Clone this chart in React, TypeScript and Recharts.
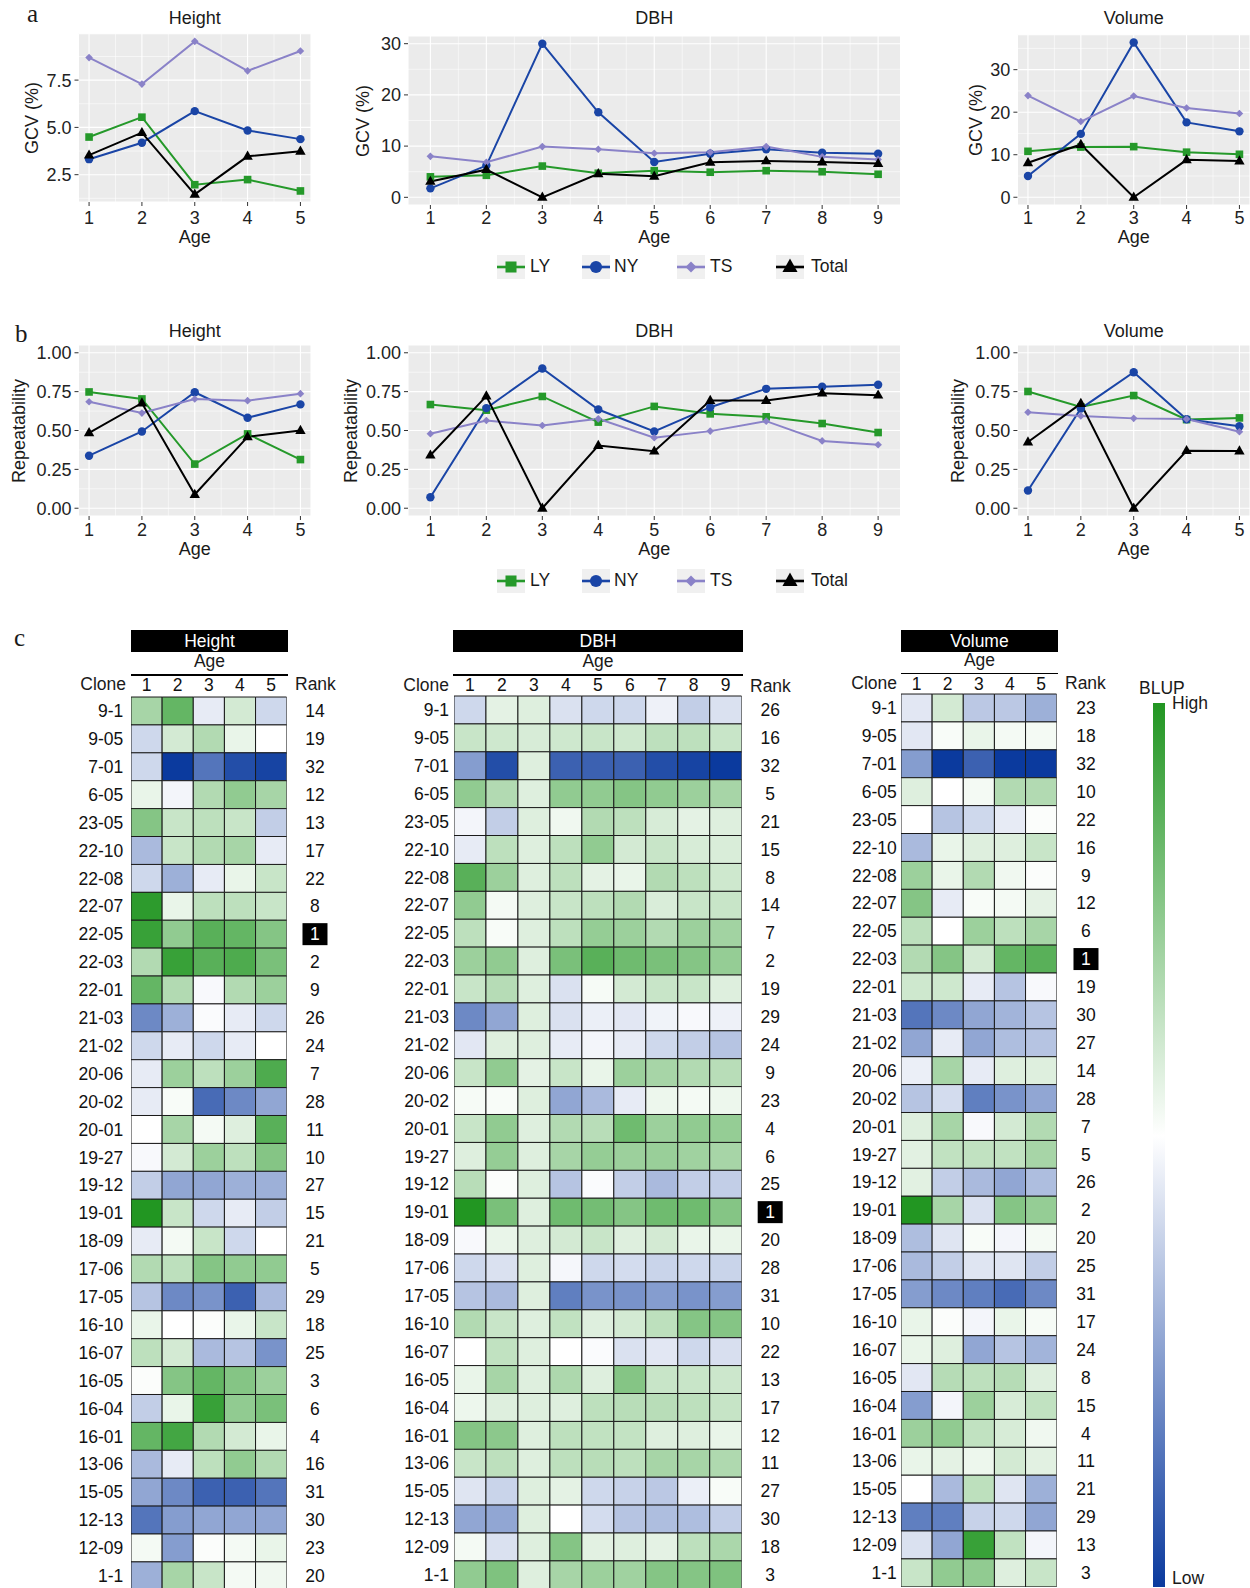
import React from 'react';
import {
  LineChart, Line, XAxis, YAxis, CartesianGrid, ReferenceLine, BarChart, Bar, Cell,
} from 'recharts';

const FONT = '"Liberation Sans", Arial, Helvetica, sans-serif';
const SERIF = '"Liberation Serif", "Times New Roman", serif';

const ages5 = [1, 2, 3, 4, 5];
const ages9 = [1, 2, 3, 4, 5, 6, 7, 8, 9];

// a: genetic coefficient of variation (%)
const gcvHeightLY = [4.49, 5.54, 1.97, 2.24, 1.64];
const gcvHeightNY = [3.32, 4.19, 5.86, 4.84, 4.38];
const gcvHeightTS = [8.69, 7.29, 9.55, 7.99, 9.04];
const gcvHeightTotal = [3.53, 4.72, 1.46, 3.47, 3.74];

const gcvDbhLY = [4.0, 4.3, 6.1, 4.7, 5.2, 4.9, 5.2, 5.0, 4.5];
const gcvDbhNY = [1.75, 6.2, 30.0, 16.6, 6.9, 8.5, 9.4, 8.7, 8.5];
const gcvDbhTS = [8.0, 6.85, 9.9, 9.4, 8.6, 8.8, 9.9, 7.9, 7.4];
const gcvDbhTotal = [3.1, 5.4, 0.0, 4.6, 4.1, 6.85, 7.1, 6.9, 6.6];

const gcvVolLY = [10.8, 11.8, 11.9, 10.6, 10.1];
const gcvVolNY = [5.0, 14.9, 36.4, 17.6, 15.5];
const gcvVolTS = [23.9, 17.8, 23.8, 21.0, 19.7];
const gcvVolTotal = [8.1, 12.4, 0.0, 8.8, 8.5];

// b: repeatability
const repHeightLY = [0.748, 0.703, 0.284, 0.478, 0.313];
const repHeightNY = [0.338, 0.494, 0.746, 0.582, 0.668];
const repHeightTS = [0.685, 0.612, 0.703, 0.692, 0.737];
const repHeightTotal = [0.485, 0.677, 0.088, 0.459, 0.5];

const repDbhLY = [0.667, 0.631, 0.719, 0.554, 0.655, 0.607, 0.588, 0.545, 0.487];
const repDbhNY = [0.071, 0.644, 0.899, 0.635, 0.494, 0.65, 0.768, 0.781, 0.794];
const repDbhTS = [0.479, 0.564, 0.532, 0.575, 0.453, 0.496, 0.56, 0.433, 0.408];
const repDbhTotal = [0.341, 0.721, 0.0, 0.403, 0.367, 0.693, 0.693, 0.74, 0.727];

const repVolLY = [0.751, 0.652, 0.725, 0.57, 0.581];
const repVolNY = [0.114, 0.641, 0.875, 0.572, 0.527];
const repVolTS = [0.617, 0.594, 0.578, 0.574, 0.492];
const repVolTotal = [0.426, 0.673, 0.0, 0.37, 0.368];

const gcvHeightTicks = [2.5, 5, 7.5];
const gcvHeightMinor = [1.25, 3.75, 6.25, 8.75];
const gcvTicks = [0, 10, 20, 30];
const gcvDbhMinor = [5, 15, 25];
const gcvVolMinor = [5, 15, 25, 35];
const repTicks = [0, 0.25, 0.5, 0.75, 1];
const repMinor = [0.125, 0.375, 0.625, 0.875];

// c: BLUP heatmaps (relative scale, -10 = low ... +10 = high)
const clones = ['9-1', '9-05', '7-01', '6-05', '23-05', '22-10', '22-08', '22-07', '22-05', '22-03',
  '22-01', '21-03', '21-02', '20-06', '20-02', '20-01', '19-27', '19-12', '19-01', '18-09',
  '17-06', '17-05', '16-10', '16-07', '16-05', '16-04', '16-01', '13-06', '15-05', '12-13',
  '12-09', '1-1'];

const rankHeight = [14, 19, 32, 12, 13, 17, 22, 8, 1, 2, 9, 26, 24, 7, 28, 11, 10, 27, 15, 21, 5, 29, 18, 25, 3, 6, 4, 16, 31, 30, 23, 20];
const rankDbh = [26, 16, 32, 5, 21, 15, 8, 14, 7, 2, 19, 29, 24, 9, 23, 4, 6, 25, 1, 20, 28, 31, 10, 22, 13, 17, 12, 11, 27, 30, 18, 3];
const rankVol = [23, 18, 32, 10, 22, 16, 9, 12, 6, 1, 19, 30, 27, 14, 28, 7, 5, 26, 2, 20, 25, 31, 17, 24, 8, 15, 4, 11, 21, 29, 13, 3];

const blupHeight = [
  [4, 7, -1, 2, -2],
  [-2, 2, 3.5, 1, 0],
  [-2, -10, -7, -9, -9.5],
  [1, -0.5, 3.5, 5, 4],
  [5.5, 2.5, 3, 2.5, -2.5],
  [-3.5, 2.5, 3.5, 4, -1],
  [-2, -4, -1, 1, 2.5],
  [9.5, 1, 3, 3, 2.5],
  [9, 5, 7.5, 7, 5.5],
  [3.5, 9, 7.5, 8, 6],
  [7, 3.5, -0.3, 3.5, 4.5],
  [-6, -4, -0.2, -1, -2],
  [-2, -1, -2, -1, 0],
  [-1, 4.5, 3, 4.5, 8],
  [-1, 0.3, -7.5, -6, -4.5],
  [0, 4, 0.5, 1.5, 7.5],
  [-0.3, 2, 4.5, 3, 5.5],
  [-2.5, -4.5, -4.5, -4, -4],
  [10, 2.5, -2, -1, -2.5],
  [-1, 0.5, 2.5, -2, 0],
  [3.5, 3, 5.5, 5, 5],
  [-3, -6, -5.5, -8, -3.5],
  [1, 0, 0.2, 1, 2.5],
  [3, 2, -3.5, -3, -5.5],
  [0.2, 5.5, 7, 5.5, 4.5],
  [-2.5, 1, 9, 5, 6],
  [7, 8.5, 3.5, 2, 1],
  [-3.5, -1, 3, 5, 3.5],
  [-4.5, -6, -8, -8, -7],
  [-7, -5, -4.5, -4.5, -4.5],
  [0.5, -5, 0.2, 0.5, 1],
  [-4, 4, 2.5, 0.5, 0.7],
];

const blupDbh = [
  [-2, 1.2, 1.5, -1.5, -2, -2, -0.7, -2.5, -1.5],
  [2.5, 2.2, 1.8, 2.2, 2.5, 2.2, 3, 3, 2.5],
  [-5, -9, 1.5, -8, -8, -8, -9, -9.5, -10],
  [5, 3.5, 1.5, 5, 5, 5.5, 5, 4.5, 4],
  [-0.5, -2.5, 1.5, 0.7, 3.5, 3, 1.8, 1.2, 1.5],
  [-1, 3, 1.5, 3, 5, 2, 2.5, 1.8, 1.7],
  [7.5, 4.5, 1.5, 3, 1.2, 1, 3.5, 3, 2.2],
  [5, 0.5, 1.5, 2.5, 3, 3.5, 1.7, 2.5, 2.5],
  [3, 0.3, 1.5, 3, 4.8, 4.5, 3.5, 4.5, 4.2],
  [4.5, 5, 1.5, 6, 7.5, 6.5, 6, 5.5, 4.8],
  [2.5, 3.3, 1.5, -1.5, 0.4, 2, 2.5, 2.5, 1.5],
  [-6, -4.5, 1.5, -1.5, -0.8, -1.2, -0.6, -0.3, -0.7],
  [-1.2, 1.5, 1.5, -1, -0.5, -1, -2, -2.5, -3],
  [2.5, 5, 1.2, 2.5, 1, 4.5, 4, 3.5, 3.2],
  [0.4, 0.3, 1.5, -4.5, -3.5, -1, 0.8, 0.5, 0.8],
  [2.5, 5, 1.5, 3.5, 3.2, 6.5, 4.5, 5, 4.8],
  [1.5, 4.8, 1.5, 4, 4.8, 4.5, 4.6, 4.3, 4],
  [3.2, 0.2, 1.5, -3, -0.2, -2.5, -3.5, -2.5, -2.5],
  [10, 6, 1.5, 6.5, 6.3, 5.5, 6.5, 6.5, 5.5],
  [-0.3, 1, 1.5, 2, 2.5, 1.5, 2, 1, 1],
  [-2, -1.5, 1.5, -0.4, -2, -1.8, -2.2, -2, -2.2],
  [-3, -3.5, 1.5, -6.5, -5.5, -5.5, -5, -5.5, -5],
  [3.5, 2.5, 1.5, 2.8, 1.5, 2, 3, 5.5, 5.5],
  [0, 2.8, 1.5, 0, -0.2, -1.5, -1.2, -2, -1.6],
  [1, 4, 1.5, 3.7, 1.5, 5.5, 2.5, 2.5, 2.3],
  [0.8, 1.5, 1.5, 1.5, 3, 3.2, 3.2, 3, 2.6],
  [5.5, 5.2, 1.5, 3, 2.8, 2.7, 1.5, 1.5, 1],
  [2.5, 3, 1.5, 3, 3.2, 3, 4, 4, 3.6],
  [-1.3, -2.2, 1.5, 1.2, -2, -2.3, -2.8, -0.8, 0.3],
  [-4.5, -4.5, 1.5, 0, -1.8, -3, -3.3, -3.3, -2.5],
  [0.5, -1.5, 1.5, 5.5, 1.3, 1.5, 1.2, 3, 3.8],
  [5, 5.8, 1.5, 4, 4.5, 4.3, 5.5, 5.5, 5.8],
];

const blupVol = [
  [-1.2, 2, -2.8, -2.8, -4],
  [-1.2, 0.3, 1, 0.5, 0.5],
  [-5, -10, -8, -10, -10],
  [1.5, 0, 0.5, 3.5, 3.5],
  [0, -3, -2, -1, 0.2],
  [-3.5, 1, 1.5, 1.5, 2.5],
  [4.5, 1, 3.5, 0.7, 0.2],
  [5.5, -1, 0.3, 0.5, 1.2],
  [3, 0, 4.5, 3, 4],
  [3.5, 5.5, 2, 7, 7.5],
  [2.2, 2.2, -1, -3, -0.3],
  [-7, -6, -4.5, -3.8, -3],
  [-4.5, -1, -4.5, -3.3, -3],
  [-0.8, 4, -1, 1.5, 1.5],
  [-3, -1.8, -6.5, -5.5, -4.5],
  [1.5, 4, -0.3, 2, 3.5],
  [1.3, 2.8, 2.8, 2.8, 4],
  [1.3, -2.5, -3.5, -4.5, -3.3],
  [10, 4, -1.5, 5.5, 4.8],
  [-3.3, -1.3, 0.3, -0.5, 0.5],
  [-3.5, -2.5, -1.3, -1.3, -2.5],
  [-5, -6, -6.5, -7.5, -6],
  [1, 0.2, -0.5, 1, 0.4],
  [1, 1.5, -4.5, -3, -3.8],
  [-1.2, 3.3, 3, 3.3, 1.5],
  [-5, -0.5, 4.5, 1.8, 2.8],
  [4.5, 5, 2.8, 1.8, 0.7],
  [1, 1.2, 0.8, 2, 1.3],
  [0, -3.5, 3, -1.3, -4],
  [-6.5, -6.5, -2.3, -2, -4.5],
  [-1.5, -4.5, 9, 2.8, -0.5],
  [2.5, 5, 5, 1.5, 2.5],
];

const SERIES = [
  { key: 'LY', color: '#25992a', shape: 'square' },
  { key: 'NY', color: '#1a45a6', shape: 'circle' },
  { key: 'TS', color: '#8a82c8', shape: 'diamond' },
  { key: 'Total', color: '#000000', shape: 'triangle' },
];

const HIGH = [34, 150, 34];
const LOW = [11, 58, 158];

function blupColor(v: number) {
  const t = Math.min(1, Math.abs(v) / 10);
  const target = v >= 0 ? HIGH : LOW;
  const c = target.map((ch) => Math.round(255 + (ch - 255) * t));
  return `rgb(${c[0]},${c[1]},${c[2]})`;
}

const toRows = (ages: number[], ly: number[], ny: number[], ts: number[], total: number[]) =>
  ages.map((age, i) => ({ age, LY: ly[i], NY: ny[i], TS: ts[i], Total: total[i] }));

const expand = (lo: number, hi: number) => [lo - 0.05 * (hi - lo), hi + 0.05 * (hi - lo)];
const rangeOf = (...arrs: number[][]) => expand(Math.min(...arrs.flat()), Math.max(...arrs.flat()));

function marker(shape: string, cx: number, cy: number, color: string, s = 1, key?: string) {
  if (shape === 'square') {
    const h = 3.8 * s;
    return <rect key={key} x={cx - h} y={cy - h} width={2 * h} height={2 * h} fill={color} />;
  }
  if (shape === 'circle') return <circle key={key} cx={cx} cy={cy} r={4.2 * s} fill={color} />;
  if (shape === 'diamond') {
    const h = 3.8 * s;
    return <polygon key={key} points={`${cx},${cy - h} ${cx + h},${cy} ${cx},${cy + h} ${cx - h},${cy}`} fill={color} />;
  }
  const w = 5.2 * s;
  return <polygon key={key} points={`${cx},${cy - 5.8 * s} ${cx + w},${cy + 3.4 * s} ${cx - w},${cy + 3.4 * s}`} fill={color} />;
}

function Txt({ x, base, size = 18, anchor = 'middle', color = '#1a1a1a', family = FONT, children }: any) {
  const tx = anchor === 'middle' ? '-50%' : anchor === 'end' ? '-100%' : '0';
  return (
    <div style={{
      position: 'absolute', left: x, top: base - 0.8465 * size, fontSize: size, lineHeight: 1,
      fontFamily: family, color, whiteSpace: 'nowrap', transform: `translateX(${tx})`,
    }}>{children}</div>
  );
}

function VTxt({ cx, cy, size = 18, children }: any) {
  return (
    <div style={{
      position: 'absolute', left: cx, top: cy, fontSize: size, lineHeight: 1, fontFamily: FONT,
      color: '#1a1a1a', whiteSpace: 'nowrap', transform: 'translate(-50%, -50%) rotate(-90deg)',
    }}>{children}</div>
  );
}

const tickStyle = { fill: '#222', fontSize: 18, fontFamily: FONT };

function LinePanel({ box, plot, rows, ages, yDomain, yTicks, yMinor, yFmt, title, yTitle, yTitleX, titleBase, ageBase, tickBase }: any) {
  const xDomain = expand(ages[0], ages[ages.length - 1]);
  const minorX = ages.slice(1).map((a: number) => a - 0.5);
  const xAxisH = 30;
  const cx = (plot.l + plot.r) / 2;
  // tick label baseline = plot bottom + tick length + margin + cap height
  const xTickMargin = Math.max(1, tickBase - plot.b - 4 - 12.8);
  return (
    <>
      <Txt x={cx} base={titleBase}>{title}</Txt>
      <Txt x={cx} base={ageBase}>Age</Txt>
      <VTxt cx={yTitleX} cy={(plot.t + plot.b) / 2}>{yTitle}</VTxt>
      <div style={{ position: 'absolute', left: box.x, top: box.y }}>
        <LineChart
          width={box.w}
          height={box.h}
          data={rows}
          margin={{ top: plot.t - box.y, right: box.x + box.w - plot.r, bottom: box.y + box.h - plot.b - xAxisH, left: 0 }}
        >
          <CartesianGrid fill="#EBEBEB" stroke="#ffffff" strokeWidth={1.1} />
          {minorX.map((v: number) => (
            <ReferenceLine key={`mx${v}`} x={v} stroke="#ffffff" strokeWidth={0.55} />
          ))}
          {yMinor.map((v: number) => (
            <ReferenceLine key={`my${v}`} y={v} stroke="#ffffff" strokeWidth={0.55} />
          ))}
          <XAxis
            type="number" dataKey="age" domain={xDomain} ticks={ages} allowDataOverflow interval={0}
            axisLine={false} tickLine={{ stroke: '#333' }} tickSize={4} tickMargin={xTickMargin} height={xAxisH} tick={tickStyle}
          />
          <YAxis
            type="number" domain={yDomain} ticks={yTicks} allowDataOverflow interval={0} width={plot.l - box.x}
            axisLine={false} tickLine={{ stroke: '#333' }} tickSize={4} tickMargin={3} tick={tickStyle} tickFormatter={yFmt}
          />
          {SERIES.map((s) => (
            <Line
              key={s.key} type="linear" dataKey={s.key} stroke={s.color} strokeWidth={2}
              isAnimationActive={false} activeDot={false}
              dot={(p: any) => (p.cx == null ? <g key={`d${p.index}`} /> : marker(s.shape, p.cx, p.cy, s.color, 1, `d${p.index}`))}
            />
          ))}
        </LineChart>
      </div>
    </>
  );
}

const legendKeyX = [497, 582, 677, 776];
const legendTextX = [530, 614, 710, 811];

function LegendRow({ cy }: { cy: number }) {
  return (
    <>
      {SERIES.map((s, i) => (
        <React.Fragment key={s.key}>
          <svg style={{ position: 'absolute', left: legendKeyX[i], top: cy - 12 }} width={28} height={24}>
            <rect width={28} height={24} fill="#F0F0F0" />
            <line x1={0} x2={28} y1={12} y2={12} stroke={s.color} strokeWidth={2.6} />
            {marker(s.shape, 14, 12, s.color, 1.45)}
          </svg>
          <Txt x={legendTextX[i]} base={cy + 6.3} anchor="start" size={17.5}>{s.key}</Txt>
        </React.Fragment>
      ))}
    </>
  );
}

function RankTick({ x, y, payload, shift }: any) {
  const cx = x + shift;
  const top = payload.value === 1;
  return (
    <g>
      {top && <rect x={cx - 12.5} y={y - 11} width={25} height={22} fill="#000" />}
      <text x={cx} y={y} dy="0.355em" textAnchor="middle" fontSize={17.5} fontFamily={FONT} fill={top ? '#fff' : '#111'}>
        {payload.value}
      </text>
    </g>
  );
}

function Heatmap({ title, ages, values, ranks, cellL, cellR, rowTop, labelGap, rankShift, tickGap, header }: any) {
  const rowH = 27.9;
  const topH = 30;
  const leftW = 64;
  const rightW = 50;
  const data = clones.map((clone, i) => ({ clone, rank: ranks[i] }));
  return (
    <>
      <div style={{
        position: 'absolute', left: header.x1, top: 630, width: header.x2 - header.x1, height: 22, background: '#000',
        color: '#fff', fontFamily: FONT, fontSize: 17.5, lineHeight: '22px', textAlign: 'center',
      }}>{title}</div>
      <Txt x={(header.x1 + header.x2) / 2} base={header.ageBase} size={17.5}>Age</Txt>
      <div style={{ position: 'absolute', left: header.x1, top: header.lineY, width: header.x2 - header.x1, height: 1.5, background: '#000' }} />
      <Txt x={header.cloneEnd} base={header.cloneBase} size={17.5} anchor="end">Clone</Txt>
      <Txt x={header.rankX} base={header.rankBase} size={17.5} anchor="start">Rank</Txt>
      <div style={{ position: 'absolute', left: cellL - leftW, top: rowTop - topH }}>
        <BarChart
          layout="vertical" width={leftW + (cellR - cellL) + rightW} height={topH + rowH * clones.length}
          data={data} margin={{ top: 0, right: 0, bottom: 0, left: 0 }} barCategoryGap={0} barGap={0}
        >
          <XAxis
            type="number" orientation="top" domain={[0, ages.length]} ticks={ages.map((a: number) => a - 0.5)}
            tickFormatter={(v: number) => String(v + 0.5)} allowDataOverflow interval={0} height={topH}
            axisLine={false} tickLine={false} tickSize={0} tickMargin={tickGap}
            tick={{ fill: '#111', fontSize: 17.5, fontFamily: FONT }}
          />
          <YAxis
            yAxisId="clone" type="category" dataKey="clone" width={leftW} interval={0}
            axisLine={false} tickLine={false} tickSize={0} tickMargin={labelGap}
            tick={{ fill: '#111', fontSize: 17.5, fontFamily: FONT }}
          />
          <YAxis
            yAxisId="rank" orientation="right" type="category" dataKey="rank" width={rightW} interval={0}
            axisLine={false} tickLine={false} tickSize={0} tickMargin={0}
            tick={(p: any) => <RankTick {...p} shift={rankShift} />}
          />
          {ages.map((a: number, j: number) => (
            <Bar key={a} yAxisId="clone" dataKey={() => 1} stackId="blup" isAnimationActive={false}>
              {values.map((row: number[], i: number) => (
                <Cell key={i} fill={blupColor(row[j])} stroke="#1a1a1a" strokeWidth={1} />
              ))}
            </Bar>
          ))}
        </BarChart>
      </div>
    </>
  );
}

export default function App() {
  const aY = { y: 0, h: 250 };
  const bY = { y: 300, h: 260 };
  const bPlot = { t: 345, b: 516 };
  const repDomain = expand(0, 1);
  const fmt1 = (v: number) => v.toFixed(1);
  const fmt0 = (v: number) => String(v);
  const fmt2 = (v: number) => v.toFixed(2);
  return (
    <div style={{ position: 'absolute', left: 0, top: 0, width: 1250, height: 1588, overflow: 'hidden', background: '#fff' }}>
      <Txt x={27} base={22} size={25} anchor="start" family={SERIF}>a</Txt>
      <Txt x={15} base={342} size={25} anchor="start" family={SERIF}>b</Txt>
      <Txt x={14} base={646} size={25} anchor="start" family={SERIF}>c</Txt>

      <LinePanel
        box={{ x: 0, w: 330, ...aY }} plot={{ l: 78.5, r: 311, t: 33.7, b: 202 }}
        rows={toRows(ages5, gcvHeightLY, gcvHeightNY, gcvHeightTS, gcvHeightTotal)} ages={ages5}
        yDomain={rangeOf(gcvHeightLY, gcvHeightNY, gcvHeightTS, gcvHeightTotal)} yTicks={gcvHeightTicks} yMinor={gcvHeightMinor}
        yFmt={fmt1} title="Height" yTitle="GCV (%)" yTitleX={32} titleBase={24} ageBase={243} tickBase={224}
      />
      <LinePanel
        box={{ x: 330, w: 580, ...aY }} plot={{ l: 408, r: 900.5, t: 36, b: 205 }}
        rows={toRows(ages9, gcvDbhLY, gcvDbhNY, gcvDbhTS, gcvDbhTotal)} ages={ages9}
        yDomain={rangeOf(gcvDbhLY, gcvDbhNY, gcvDbhTS, gcvDbhTotal)} yTicks={gcvTicks} yMinor={gcvDbhMinor}
        yFmt={fmt0} title="DBH" yTitle="GCV (%)" yTitleX={363} titleBase={24} ageBase={243} tickBase={224}
      />
      <LinePanel
        box={{ x: 930, w: 320, ...aY }} plot={{ l: 1017.4, r: 1250, t: 34.7, b: 205 }}
        rows={toRows(ages5, gcvVolLY, gcvVolNY, gcvVolTS, gcvVolTotal)} ages={ages5}
        yDomain={rangeOf(gcvVolLY, gcvVolNY, gcvVolTS, gcvVolTotal)} yTicks={gcvTicks} yMinor={gcvVolMinor}
        yFmt={fmt0} title="Volume" yTitle="GCV (%)" yTitleX={976} titleBase={24} ageBase={243} tickBase={224}
      />
      <LegendRow cy={266.5} />

      <LinePanel
        box={{ x: 0, w: 330, ...bY }} plot={{ l: 78.5, r: 311, ...bPlot }}
        rows={toRows(ages5, repHeightLY, repHeightNY, repHeightTS, repHeightTotal)} ages={ages5}
        yDomain={repDomain} yTicks={repTicks} yMinor={repMinor}
        yFmt={fmt2} title="Height" yTitle="Repeatability" yTitleX={19} titleBase={337} ageBase={555} tickBase={536}
      />
      <LinePanel
        box={{ x: 330, w: 580, ...bY }} plot={{ l: 408, r: 900.5, ...bPlot }}
        rows={toRows(ages9, repDbhLY, repDbhNY, repDbhTS, repDbhTotal)} ages={ages9}
        yDomain={repDomain} yTicks={repTicks} yMinor={repMinor}
        yFmt={fmt2} title="DBH" yTitle="Repeatability" yTitleX={350.5} titleBase={337} ageBase={555} tickBase={536}
      />
      <LinePanel
        box={{ x: 930, w: 320, ...bY }} plot={{ l: 1017.4, r: 1250, ...bPlot }}
        rows={toRows(ages5, repVolLY, repVolNY, repVolTS, repVolTotal)} ages={ages5}
        yDomain={repDomain} yTicks={repTicks} yMinor={repMinor}
        yFmt={fmt2} title="Volume" yTitle="Repeatability" yTitleX={958} titleBase={337} ageBase={555} tickBase={536}
      />
      <LegendRow cy={580.5} />

      <Heatmap
        title="Height" ages={ages5} values={blupHeight} ranks={rankHeight}
        cellL={131} cellR={286.7} rowTop={697} labelGap={7.7} rankShift={28.3} tickGap={6}
        header={{ x1: 131, x2: 288, ageBase: 667.7, lineY: 674.3, cloneEnd: 126, cloneBase: 691, rankX: 295, rankBase: 691 }}
      />
      <Heatmap
        title="DBH" ages={ages9} values={blupDbh} ranks={rankDbh}
        cellL={454.3} cellR={742} rowTop={696} labelGap={5} rankShift={28.5} tickGap={4.5}
        header={{ x1: 453, x2: 743, ageBase: 667.7, lineY: 674.3, cloneEnd: 449, cloneBase: 691.7, rankX: 750, rankBase: 693 }}
      />
      <Heatmap
        title="Volume" ages={ages5} values={blupVol} ranks={rankVol}
        cellL={901} cellR={1056.7} rowTop={694} labelGap={4.3} rankShift={29.3} tickGap={3.7}
        header={{ x1: 901, x2: 1058, ageBase: 667.3, lineY: 672.6, cloneEnd: 897, cloneBase: 690, rankX: 1065, rankBase: 690 }}
      />

      <Txt x={1139} base={695} size={17.5} anchor="start">BLUP</Txt>
      <Txt x={1172} base={710} size={17.5} anchor="start">High</Txt>
      <Txt x={1172} base={1585} size={17.5} anchor="start">Low</Txt>
      <div style={{
        position: 'absolute', left: 1153, top: 703, width: 12, height: 884,
        background: `linear-gradient(to bottom, ${blupColor(10)}, #ffffff 49%, ${blupColor(-10)})`,
      }} />
    </div>
  );
}
